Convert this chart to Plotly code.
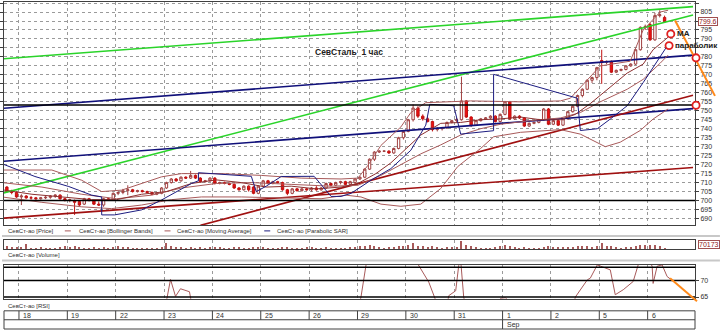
import plotly.graph_objects as go

W, H = 720, 332

# ------------------------------------------------------------------ data
day_labels = ["18", "19", "22", "23", "24", "25", "26", "29", "30", "31", "1", "2", "5", "6"]
month_labels = ["Sep"]
month_start_day = [10]

# hourly candles: first group is the tail of 17 Aug, last group is 6 Sep (partial)
candles_per_day = [3] + [10] * 13 + [4]
first_slot = [7] + [0] * 14

opens = [707.5, 705, 704.5,
         702, 702.5, 701.5, 701.5, 701, 701.5, 701.8, 702.5, 703, 701,
         700, 700, 699.5, 698, 701, 700, 698, 697.5, 701, 700.3,
         704, 704.5, 705.5, 706, 705, 705.5, 705, 704.5, 703.5, 704,
         707, 710, 712, 711, 713, 712.5, 714, 712.5, 710.5, 711,
         712.5, 709.5, 710, 709.5, 709, 707, 706, 708, 707.5, 704,
         708, 711, 709.5, 710.5, 710, 706, 704, 706.5, 705.5, 706.5,
         706, 707, 706, 707, 709.5, 708.5, 710, 710.5, 709, 710,
         712, 713, 717.5, 723, 727, 727.5, 727.5, 726.5, 729, 735,
         738.5, 745, 751.5, 747, 745.5, 744, 739.5, 740, 740.5, 743.5,
         744.5, 745, 755.5, 746.5, 742, 744.5, 745.5, 746, 747, 744,
         748, 755, 745.5, 747, 746, 741.5, 743, 743.5, 745, 751,
         742.5, 744.5, 742, 745.5, 749.5, 752.5, 758.5, 762, 767, 768.5,
         778, 777, 777.5, 771.5, 772.5, 773, 775, 776, 784, 796.5,
         798, 789.5, 803, 802]
highs = [708, 706, 705,
         703.5, 703, 702.5, 702, 702, 702.5, 703, 703.5, 703.5, 701.5,
         701, 700.5, 700, 701.5, 701.5, 700.5, 699.5, 701.5, 701.5, 704.5,
         705, 706.5, 708.5, 706.5, 706, 706, 705.5, 705, 704.5, 707.5,
         710.5, 712.5, 712.5, 713.5, 713.5, 716.5, 714.5, 713, 711.5, 713,
         713, 710.5, 710.5, 710, 709.5, 707.5, 708.5, 708.5, 708, 708.5,
         711.5, 711.5, 711, 711, 710.5, 706.5, 707, 707, 707, 707,
         707.5, 708, 707.5, 710, 710, 710.5, 711, 711, 711, 712.5,
         713.5, 718, 723.5, 727.5, 728, 728, 728, 729.5, 735.5, 739,
         745.5, 753.5, 752.5, 748, 746.5, 744.5, 741, 741, 744, 745,
         746, 769, 756, 747, 745, 746, 746.5, 747.5, 747.5, 748.5,
         755.5, 755.5, 747.5, 747.5, 746.5, 743.5, 744, 745.5, 751.5, 751.5,
         745, 745, 746, 750, 753, 759, 762.5, 767.5, 769, 774.5,
         784, 778, 778, 773, 773.5, 775.5, 776.5, 784.5, 797, 798,
         799, 804.5, 806, 803]
lows = [704.5, 703.5, 701.5,
        697.5, 701, 700.5, 700.5, 700.5, 700.8, 701, 701.5, 700.5, 699.5,
        699, 692, 697, 697.5, 699.5, 697.5, 697, 696.5, 700, 700,
        703, 703.5, 703, 704.5, 704.5, 704.5, 704, 703, 703, 703.5,
        706.5, 709.5, 710.5, 710.5, 712, 712, 712, 710, 710, 710.5,
        709, 709, 709, 708.5, 706.5, 705.5, 705.5, 705, 703.5, 703.5,
        707.5, 709, 709, 709.5, 705.5, 703, 703.5, 705, 705, 705.5,
        705, 705.5, 705.5, 706.5, 708, 708, 709, 708.5, 708.5, 709.5,
        711.5, 712.5, 717, 722, 726.5, 727, 726, 726, 728.5, 734,
        738, 744, 746, 744.5, 743.5, 738.5, 738.5, 739, 740, 743,
        743.5, 744.5, 746, 741, 741.5, 744, 745, 745.5, 743.5, 743.5,
        747.5, 745, 745, 745.5, 741, 741, 742.5, 743, 744.5, 742,
        742, 741.5, 741.5, 745, 749, 752, 757.5, 761.5, 765.5, 767,
        765, 776, 771, 771, 772, 772.5, 774.5, 775.5, 783.5, 795,
        789, 789, 802, 799]
closes = [705, 704.5, 702,
          702.5, 701.5, 701.5, 701, 701.5, 701.8, 702.5, 703, 701, 700,
          700.5, 699, 697.5, 701, 700, 698, 697.5, 701, 700.3, 704,
          704.5, 705.5, 706, 705, 705.5, 705, 704.5, 703.5, 704, 707,
          710, 712, 711, 713, 712.5, 714, 712.5, 710.5, 711, 712.5,
          709.5, 710, 709.5, 709, 707, 706, 708, 706, 704, 708,
          711, 709.5, 710.5, 710, 706, 704, 706.5, 705.5, 706.5, 706,
          707, 706, 707, 709.5, 708.5, 710, 710.5, 709, 710.5, 712,
          713, 717.5, 723, 727, 727.5, 727.5, 726.5, 729, 735, 738.5,
          745, 751.5, 747, 745.5, 744, 739.5, 740, 740.5, 743.5, 744.5,
          745, 755.5, 746.5, 742, 744.5, 745.5, 746, 747, 744, 748,
          755, 745.5, 747, 746, 741.5, 743, 743.5, 745, 751, 742.5,
          744.5, 742, 745.5, 749.5, 752.5, 758.5, 762, 767, 768.5, 774,
          777, 777.5, 771.5, 772.5, 773, 775, 776, 784, 796.5, 797,
          789.5, 803, 803.5, 799.6]
volumes = [150000, 120000, 110000,
           120000, 260000, 90000, 80000, 100000, 70000, 90000, 80000, 110000, 150000,
           130000, 180000, 100000, 90000, 80000, 110000, 90000, 120000, 80000, 140000,
           150000, 120000, 100000, 80000, 70000, 90000, 80000, 90000, 70000, 130000,
           330000, 150000, 120000, 100000, 90000, 130000, 90000, 100000, 80000, 120000,
           140000, 100000, 80000, 90000, 110000, 100000, 90000, 80000, 120000, 130000,
           120000, 90000, 80000, 70000, 110000, 100000, 90000, 80000, 70000, 110000,
           110000, 90000, 70000, 100000, 80000, 70000, 80000, 90000, 100000, 140000,
           150000, 180000, 200000, 160000, 110000, 90000, 100000, 120000, 170000, 180000,
           200000, 320000, 180000, 150000, 120000, 160000, 100000, 90000, 110000, 120000,
           130000, 380000, 200000, 150000, 110000, 90000, 80000, 90000, 100000, 150000,
           200000, 180000, 120000, 90000, 130000, 90000, 80000, 90000, 140000, 160000,
           120000, 110000, 100000, 130000, 140000, 170000, 150000, 160000, 130000, 170000,
           320000, 180000, 160000, 110000, 90000, 100000, 110000, 170000, 220000, 200000,
           230000, 220000, 180000, 70173]
last_volume_label = "70173"
last_price_label = "799.6"

# indicators (x in trading-day units, 0 = start of 18 Aug)
bb_up_x = [-0.351, 0.680, 1.299, 1.711, 2.124, 2.536, 2.948, 3.361, 4.186, 5.010, 5.835, 6.660, 7.010, 7.216,
           7.485, 7.897, 8.103, 8.412, 9.340, 10.371, 11.196, 11.402, 11.608, 12.021, 12.639, 12.907, 13.258, 13.423]
bb_up_v = [717, 717, 711.3, 705, 705.8, 709.5, 713.2, 715, 715, 714, 712.5, 712, 712.5, 719.6,
           730.7, 741, 749, 754.5, 755.5, 755, 755.5, 757, 763, 775, 777.6, 795, 805, 806]
bb_mid_x = [-0.351, 0.474, 1.299, 2.021, 2.742, 3.361, 4.082, 4.804, 5.629, 6.454, 7.010, 7.485, 7.897,
            8.309, 8.722, 9.134, 9.546, 9.959, 10.577, 11.196, 11.608, 12.021, 12.577, 12.907, 13.258, 13.423]
bb_mid_v = [710, 707.5, 703.5, 701, 703, 707, 709.5, 710, 709, 708, 708.5, 714, 720,
            726, 731, 736.5, 740, 742.5, 744.5, 746, 749, 755, 762, 767.5, 776.5, 781]
bb_low_x = [-0.351, 0.474, 1.299, 1.918, 2.536, 3.155, 3.773, 4.598, 5.423, 6.247, 6.763, 7.072, 7.485, 7.897,
            8.309, 8.722, 9.072, 9.546, 9.814, 10.371, 11.196, 11.608, 12.124, 12.433, 12.845, 13.113, 13.423]
bb_low_v = [702, 699, 696.5, 695.5, 697.5, 700.5, 702, 702, 701.5, 701, 703, 702, 698, 696.8,
            698, 706.7, 718.9, 729, 735.5, 738, 739.5, 737, 730, 732.5, 739, 745.4, 751]
ma_x = [-0.351, 0.268, 0.887, 1.505, 2.021, 2.536, 3.052, 3.567, 4.082, 4.598, 5.113, 5.629, 6.144, 6.660,
        7.010, 7.381, 7.691, 8.000, 8.309, 8.722, 9.134, 9.546, 9.959, 10.371, 10.784, 11.196, 11.505,
        11.814, 12.165, 12.577, 12.907, 13.113, 13.423]
ma_v = [706, 703.5, 702, 700.5, 700.5, 703.5, 705, 709.5, 711.5, 710, 707.5, 708, 706.5, 707.5,
        709.5, 715, 721, 729, 736.5, 743, 743.5, 745, 745.5, 746.5, 745, 745, 748,
        754, 762, 771, 776, 784, 791]
sar_x = [-0.351, 0.330, 1.031, 1.505, 1.711, 1.711, 1.979, 2.536, 2.948, 3.567, 3.711, 3.711, 4.804, 4.907,
         5.113, 5.423, 6.103, 6.454, 6.660, 6.866, 7.278, 7.691, 8.103, 8.412, 8.495, 8.990, 9.134,
         9.814, 9.814, 11.546, 11.608, 11.959, 12.227, 12.577, 12.907, 13.258, 13.402]
sar_v = [720.5, 713.4, 707.8, 703, 702, 692, 692, 694.8, 700.3, 709.5, 711, 715.5, 713.5, 705,
         708, 713.4, 713.5, 702.3, 702.3, 704, 711.3, 717.8, 728, 742, 753.6, 752.8, 737,
         738.9, 770.3, 757, 739, 740, 745.4, 752.8, 765.7, 780.4, 786]
rsi_x = [-0.351, 2.948, 3.052, 3.134, 3.237, 3.340, 3.526, 3.567, 3.670, 6.969, 7.072, 7.175, 7.278, 8.103,
         8.247, 8.474, 8.577, 8.722, 8.845, 8.887, 9.031, 9.093, 9.134, 9.196, 9.299, 9.856, 9.959,
         10.062, 10.165, 10.371, 11.402, 11.505, 11.753, 11.814, 11.959, 12.062, 12.227, 12.330, 12.495,
         12.701, 12.804, 12.948, 13.093, 13.113, 13.196, 13.299, 13.402, 13.464]
rsi_v = [50, 55, 64, 70.3, 65.2, 67.5, 66.6, 65, 55, 58, 65, 74.5, 80, 80,
         75, 69.5, 65, 60, 62, 65.4, 66.9, 74.5, 76, 65, 58, 62, 64.6,
         64.8, 63, 55, 58, 65, 70.2, 70.7, 74.7, 74.2, 73.2, 65.7, 67.2,
         69.7, 74.7, 78, 74.3, 69.1, 74.3, 74.7, 71.2, 70.5]
rsi_levels = [65, 70, 74]
price_levels = [700, 753.2]
price_ticks = list(range(690, 811, 5))
hidden_price_ticks = [785, 800]   # covered by the labels / the last-price box

# drawn trend lines (start/end in day units and price)
trend_x0 = [-0.351, -0.351, -0.351, -0.351, 3.753, -0.351]
trend_v0 = [778.9, 704.0, 751.3, 721.8, 686.2, 690.1]
trend_x1 = [13.938, 13.938, 13.938, 13.938, 13.938, 13.938]
trend_v1 = [808.0, 803.4, 781.0, 751.2, 758.6, 718.4]

# forecast arrows (tail -> head)
fc_price_x = [13.567, 14.392]
fc_price_v = [800.3, 758.3]
fc_rsi_x = [13.464, 14.02]
fc_rsi_v = [70.7, 63.7]

# highlighted points (MA end, SAR end, two axis levels)
mark_x = [13.478, 13.443, 14.0, 14.0]
mark_v = [792.8, 786.3, 779.5, 753.1]

# ------------------------------------------------------------------ styles / layout geometry
trend_colors = ["#2ad42a", "#2ad42a", "#10107a", "#10107a", "#a01010", "#a01010"]
BROWN = "#a85a5a"
NAVY = "#1c1c80"
ORANGE = "#ff8a1a"
FONT = "Liberation Sans, Arial"
TXT = "#303030"

X_RANGE = [-0.3093, 13.979]
PRICE_RANGE = [686.3, 810.6]
VOL_RANGE = [0, 450000]
RSI_RANGE = [64.5, 74.7]


def py(ypx):
    return 1 - ypx / H


def px(xpx):
    return (xpx - 2) / 693.0


PRICE_DOM = [py(226.5), py(2)]
VOL_DOM = [py(251), py(241.5)]
RSI_DOM = [py(300.5), py(266.5)]


def xpaper(x):
    return (x - X_RANGE[0]) / (X_RANGE[1] - X_RANGE[0])


def ypaper(v, rng, dom):
    return dom[0] + (v - rng[0]) / (rng[1] - rng[0]) * (dom[1] - dom[0])


# candle positions from day index and hourly slot
cx = []
for d, (n, s0) in enumerate(zip(candles_per_day, first_slot)):
    for k in range(n):
        cx.append(d - 1 + (s0 + k + 0.5) / 10.0)

fig = go.Figure()

for i in range(len(trend_x0)):
    fig.add_trace(go.Scatter(x=[trend_x0[i], trend_x1[i]], y=[trend_v0[i], trend_v1[i]],
                             mode="lines", line=dict(color=trend_colors[i], width=1.6),
                             hoverinfo="skip"))

for xs, vs, col in [(bb_up_x, bb_up_v, BROWN), (bb_mid_x, bb_mid_v, BROWN),
                    (bb_low_x, bb_low_v, BROWN), (ma_x, ma_v, "#8c3030"),
                    (sar_x, sar_v, NAVY)]:
    fig.add_trace(go.Scatter(x=xs, y=vs, mode="lines", line=dict(color=col, width=1),
                             hoverinfo="skip"))

fig.add_trace(go.Candlestick(
    x=cx, open=opens, high=highs, low=lows, close=closes,
    increasing=dict(fillcolor="white", line=dict(color="#a04040", width=1)),
    decreasing=dict(fillcolor="#f01010", line=dict(color="#c01010", width=1)),
    whiskerwidth=0))

fig.add_trace(go.Bar(x=cx, y=volumes, width=0.022, marker_color=BROWN,
                     marker_line_width=0, yaxis="y2"))

fig.add_trace(go.Scatter(x=rsi_x, y=rsi_v, mode="lines", line=dict(color=BROWN, width=1),
                         yaxis="y3", hoverinfo="skip"))

shapes = []
for v in price_levels:
    shapes.append(dict(type="line", xref="x domain", yref="y", x0=0, x1=1, y0=v, y1=v,
                       line=dict(color="black", width=1.5)))
for v in rsi_levels:
    shapes.append(dict(type="line", xref="x domain", yref="y3", x0=0, x1=1, y0=v, y1=v,
                       line=dict(color="black", width=1.5)))

# forecast arrows (paper coordinates so they may run past the plot edge)
shapes.append(dict(type="line", xref="paper", yref="paper",
                   x0=xpaper(fc_price_x[0]), x1=xpaper(fc_price_x[1]),
                   y0=ypaper(fc_price_v[0], PRICE_RANGE, PRICE_DOM),
                   y1=ypaper(fc_price_v[1], PRICE_RANGE, PRICE_DOM),
                   line=dict(color=ORANGE, width=2)))
shapes.append(dict(type="line", xref="paper", yref="paper",
                   x0=xpaper(fc_rsi_x[0]), x1=xpaper(fc_rsi_x[1]),
                   y0=ypaper(fc_rsi_v[0], RSI_RANGE, RSI_DOM),
                   y1=ypaper(fc_rsi_v[1], RSI_RANGE, RSI_DOM),
                   line=dict(color=ORANGE, width=2)))

# highlighted circles
rx, ry = 3.6 / 693.0, 3.6 / H
for mx, mv in zip(mark_x, mark_v):
    cxp, cyp = xpaper(mx), ypaper(mv, PRICE_RANGE, PRICE_DOM)
    shapes.append(dict(type="circle", xref="paper", yref="paper",
                       x0=cxp - rx, x1=cxp + rx, y0=cyp - ry, y1=cyp + ry,
                       fillcolor="white", line=dict(color="#e02020", width=1.8)))

# panel separators
for yy in [237.5, 262.0]:
    shapes.append(dict(type="line", xref="paper", yref="paper", x0=px(0), x1=px(720),
                       y0=py(yy), y1=py(yy), line=dict(color="#c8c8c8", width=2)))
# date rows
for yy in [312.7, 321.7, 331.0]:
    shapes.append(dict(type="line", xref="paper", yref="paper", x0=0, x1=1,
                       y0=py(yy), y1=py(yy), line=dict(color="#404040", width=1)))
for xx in [0, 1]:
    shapes.append(dict(type="line", xref="paper", yref="paper", x0=xx, x1=xx,
                       y0=py(331.0), y1=py(312.7), line=dict(color="#404040", width=1)))
for i in range(len(day_labels)):
    shapes.append(dict(type="line", xref="x", yref="paper", x0=i, x1=i,
                       y0=py(321.7), y1=py(312.7), line=dict(color="#404040", width=1)))
for m in month_start_day:
    shapes.append(dict(type="line", xref="x", yref="paper", x0=m, x1=m,
                       y0=py(331.0), y1=py(321.7), line=dict(color="#404040", width=1)))

# legend dashes
for x0, col in [(63, BROWN), (163, BROWN), (263, NAVY)]:
    shapes.append(dict(type="line", xref="paper", yref="paper", x0=px(x0), x1=px(x0 + 6),
                       y0=py(232.3), y1=py(232.3), line=dict(color=col, width=1)))

ann = []
small = dict(family=FONT, size=6, color=TXT)
dates_font = dict(family=FONT, size=7, color=TXT)
for xx, t in [(4, "СевСт-ао [Price]"), (75, "СевСт-ао [Bollinger Bands]"),
              (173, "СевСт-ао [Moving Average]"), (274, "СевСт-ао [Parabolic SAR]")]:
    ann.append(dict(xref="paper", yref="paper", x=px(xx), y=py(232.3), text=t, showarrow=False,
                    xanchor="left", yanchor="middle", font=small))
ann.append(dict(xref="paper", yref="paper", x=px(4), y=py(256.7), text="СевСт-ао [Volume]",
                showarrow=False, xanchor="left", yanchor="middle", font=small))
ann.append(dict(xref="paper", yref="paper", x=px(4), y=py(308.3), text="СевСт-ао [RSI]",
                showarrow=False, xanchor="left", yanchor="middle", font=small))
for i, t in enumerate(day_labels):
    ann.append(dict(xref="x", yref="paper", x=i, xshift=2, y=py(317.2), text=t, showarrow=False,
                    xanchor="left", yanchor="middle", font=dates_font))
for m, t in zip(month_start_day, month_labels):
    ann.append(dict(xref="x", yref="paper", x=m, xshift=2, y=py(326.5), text=t, showarrow=False,
                    xanchor="left", yanchor="middle", font=dates_font))

bold = dict(family="Liberation Sans, Arial", size=8, color="#202020")
ann.append(dict(xref="x", yref="y", x=6.076, y=782.6, text="<b>СевСталь  1 час</b>",
                showarrow=False, xanchor="left", yanchor="middle",
                font=dict(family="Liberation Sans, Arial", size=8.5, color="#202020")))
ann.append(dict(xref="x", yref="y", x=13.56, y=793.2, text="<b>МА</b>", showarrow=False,
                xanchor="left", yanchor="middle", font=bold))
ann.append(dict(xref="x", yref="y", x=13.53, y=786.3, text="<b>параболик</b>", showarrow=False,
                xanchor="left", yanchor="middle", font=bold))

# value boxes on the right axis
ann.append(dict(xref="paper", yref="y", x=1, xshift=3, y=closes[-1], text=last_price_label,
                showarrow=False, xanchor="left", yanchor="middle", bgcolor="white",
                bordercolor="#a05050", borderwidth=1, borderpad=0,
                font=dict(family=FONT, size=7, color="#902020")))
ann.append(dict(xref="paper", yref="y2", x=1, xshift=3, y=225000, text=last_volume_label,
                showarrow=False, xanchor="left", yanchor="middle", bgcolor="white",
                bordercolor="#a05050", borderwidth=1, borderpad=0,
                font=dict(family=FONT, size=7, color="#902020")))

grid = dict(showgrid=True, gridcolor="#9a9a9a", griddash="dot", gridwidth=1)
frame = dict(showline=True, linecolor="#404040", linewidth=1, zeroline=False)

fig.update_layout(
    width=W, height=H, margin=dict(l=2, r=25, t=0, b=0),
    paper_bgcolor="white", plot_bgcolor="white", showlegend=False,
    xaxis=dict(range=X_RANGE, tick0=0, dtick=1, showticklabels=False, ticks="",
               mirror="all", rangeslider=dict(visible=False), **grid, **frame),
    yaxis=dict(domain=PRICE_DOM, range=PRICE_RANGE, side="right",
               tickmode="array", tickvals=price_ticks,
               ticktext=["" if t in hidden_price_ticks else str(t) for t in price_ticks],
               ticks="outside", ticklen=3, tickcolor="#404040", mirror="ticks",
               tickfont=dict(family=FONT, size=7, color=TXT), **grid, **frame),
    yaxis2=dict(domain=VOL_DOM, range=VOL_RANGE, side="right", anchor="x",
                showticklabels=False, showgrid=False, ticks="", mirror=True, **frame),
    yaxis3=dict(domain=RSI_DOM, range=RSI_RANGE, side="right", anchor="x",
                tickvals=[65, 70], ticks="outside", ticklen=3, tickcolor="#404040",
                tickfont=dict(family=FONT, size=7, color=TXT), showgrid=False, mirror=True,
                **frame),
    shapes=shapes, annotations=ann, bargap=0,
)

fig.write_html("out.html")
